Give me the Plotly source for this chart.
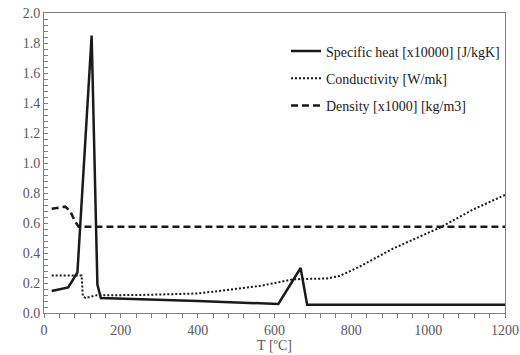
import plotly.graph_objects as go

# Specific heat [x10000] [J/kgK]
cp_T = [20, 63, 87, 124, 139, 148, 400, 610, 668, 685, 1200]
cp_v = [0.147, 0.17, 0.27, 1.85, 0.19, 0.10, 0.08, 0.06, 0.30, 0.055, 0.055]

# Conductivity [W/mk]
k_T = [20, 98, 101, 108, 137, 250, 400, 562, 649, 736, 770, 822, 909, 1031, 1117, 1200]
k_v = [0.25, 0.25, 0.113, 0.10, 0.118, 0.12, 0.13, 0.18, 0.225, 0.23, 0.247, 0.31, 0.43, 0.57, 0.69, 0.787]

# Density [x1000] [kg/m3]
d_T = [20, 40, 55, 68, 80, 90, 1200]
d_v = [0.695, 0.705, 0.709, 0.68, 0.615, 0.575, 0.575]

names = ["Specific heat [x10000] [J/kgK]", "Conductivity [W/mk]", "Density [x1000] [kg/m3]"]

fig = go.Figure()
fig.add_trace(go.Scatter(x=cp_T, y=cp_v, mode="lines", name=names[0], legendgroup="a",
                         line=dict(color="#1a1a1a", width=2.5)))
fig.add_trace(go.Scatter(x=k_T, y=k_v, mode="lines", name=names[1], legendgroup="b",
                         line=dict(color="#1a1a1a", width=2, dash="2px,2px")))
fig.add_trace(go.Scatter(x=d_T, y=d_v, mode="lines", name=names[2], legendgroup="c",
                         line=dict(color="#1a1a1a", width=2.5, dash="7px,4px")))

serif = "Liberation Serif, Times New Roman, serif"
fig.update_layout(
    width=520, height=355,
    margin=dict(l=44, r=15, t=13, b=42),
    paper_bgcolor="white", plot_bgcolor="white",
    font=dict(family=serif, size=14, color="#595959"),
    showlegend=True,
    legend=dict(x=1.0, y=0.925, xanchor="right", yanchor="top", bgcolor="rgba(0,0,0,0)",
                font=dict(family=serif, size=14, color="#1a1a1a"),
                tracegroupgap=6, traceorder="grouped", itemwidth=30),
    xaxis=dict(range=[0, 1200], dtick=200, tick0=0, showgrid=False, zeroline=False,
               automargin=False,
               showline=True, linecolor="#808080", linewidth=1, mirror=True,
               ticks="outside", ticklen=4, tickcolor="#808080",
               tickfont=dict(family=serif, size=14, color="#595959"),
               minor=dict(dtick=40, ticks="outside", ticklen=4, tickcolor="#808080"),
               title=dict(text="T [ºC]", font=dict(family=serif, size=14, color="#595959"), standoff=2)),
    yaxis=dict(range=[0, 2.0], dtick=0.2, tick0=0, tickformat=".1f", showgrid=False, zeroline=False,
               automargin=False,
               showline=True, linecolor="#808080", linewidth=1, mirror=True,
               ticks="inside", ticklen=4, tickcolor="#808080",
               tickfont=dict(family=serif, size=14, color="#595959"),
               minor=dict(dtick=0.04, ticks="inside", ticklen=4, tickcolor="#808080")),
)
fig.write_html("out.html")
